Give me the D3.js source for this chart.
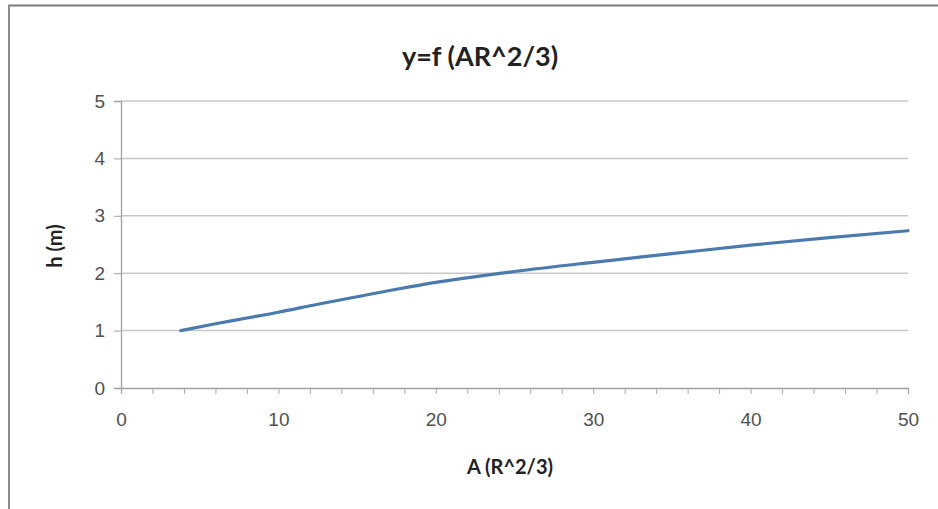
<!DOCTYPE html>
<html><head><meta charset="utf-8">
<script src="https://cdn.jsdelivr.net/npm/d3@7"></script>
<style>html,body{margin:0;padding:0;background:#fff;}svg{display:block;font-family:Lato,"Open Sans",sans-serif;}</style>
</head><body>
<svg id="c" width="938" height="509"></svg>
<script>
const xValues = [3.8, 6, 8, 10, 12.5, 15, 17.5, 20, 25, 30, 35, 40, 45, 50];
const yValues = [1.0, 1.12, 1.22, 1.32, 1.46, 1.59, 1.72, 1.84, 2.03, 2.19, 2.34, 2.49, 2.62, 2.74];
const xTicks = [0, 10, 20, 30, 40, 50];
const yTicks = [0, 1, 2, 3, 4, 5];
const title = "y=f (AR^2/3)";
const xTitle = "A (R^2/3)";
const yTitle = "h (m)";

const svg = d3.select("#c");
const x = d3.scaleLinear().domain([0, 50]).range([121, 908]);
const y = d3.scaleLinear().domain([0, 5]).range([388, 101]);

// frame
svg.append("line").attr("x1", 8).attr("x2", 938).attr("y1", 5.5).attr("y2", 5.5).attr("stroke", "#7a7a7a").attr("stroke-width", 2);
svg.append("line").attr("x1", 9).attr("x2", 9).attr("y1", 5).attr("y2", 509).attr("stroke", "#8a8a8a").attr("stroke-width", 2);

// gridlines
svg.append("g").selectAll("line").data(yTicks.filter(d => d > 0)).join("line")
  .attr("x1", x(0)).attr("x2", x(50)).attr("y1", d => y(d)).attr("y2", d => y(d))
  .attr("stroke", "#c8c8c8").attr("stroke-width", 1.5);

// y axis
const ya = svg.append("g").attr("transform", `translate(${x(0)},0)`)
  .call(d3.axisLeft(y).tickValues(yTicks).tickFormat(d3.format("d")).tickSize(7).tickPadding(9));
ya.select(".domain").attr("stroke", "#a0a0a0").attr("stroke-width", 1.3);
ya.selectAll(".tick line").attr("stroke", "#a0a0a0");
ya.selectAll("text").attr("font-size", 19).attr("fill", "#505050");

// x axis
const minor = d3.range(0, 51, 2);
const xa = svg.append("g").attr("transform", `translate(0,${y(0)})`)
  .call(d3.axisBottom(x).tickValues(minor).tickSize(6).tickFormat(""));
xa.select(".domain").attr("stroke", "#a0a0a0").attr("stroke-width", 1.3);
xa.selectAll(".tick line").attr("stroke", "#a8a8a8");
const xl = svg.append("g").attr("transform", `translate(0,${y(0)})`)
  .call(d3.axisBottom(x).tickValues(xTicks).tickSize(0).tickPadding(25));
xl.select(".domain").remove();
xl.selectAll("text").attr("font-size", 19).attr("fill", "#505050");

// line
svg.append("path").datum(xValues.map((v, i) => [v, yValues[i]]))
  .attr("fill", "none").attr("stroke", "#4a7ab0").attr("stroke-width", 3.2)
  .attr("stroke-linecap", "round")
  .attr("d", d3.line().x(d => x(d[0])).y(d => y(d[1])).curve(d3.curveMonotoneX));

// titles
svg.append("text").attr("x", 480).attr("y", 66).attr("text-anchor", "middle")
  .attr("font-size", 27).attr("font-weight", "bold").attr("fill", "#222").text(title);
svg.append("text").attr("x", 510).attr("y", 474).attr("text-anchor", "middle")
  .attr("font-size", 20).attr("font-weight", "bold").attr("fill", "#222").text(xTitle);
svg.append("text").attr("transform", "translate(62,246) rotate(-90)").attr("text-anchor", "middle")
  .attr("font-size", 20).attr("font-weight", "bold").attr("fill", "#222").text(yTitle);
</script>
</body></html>
